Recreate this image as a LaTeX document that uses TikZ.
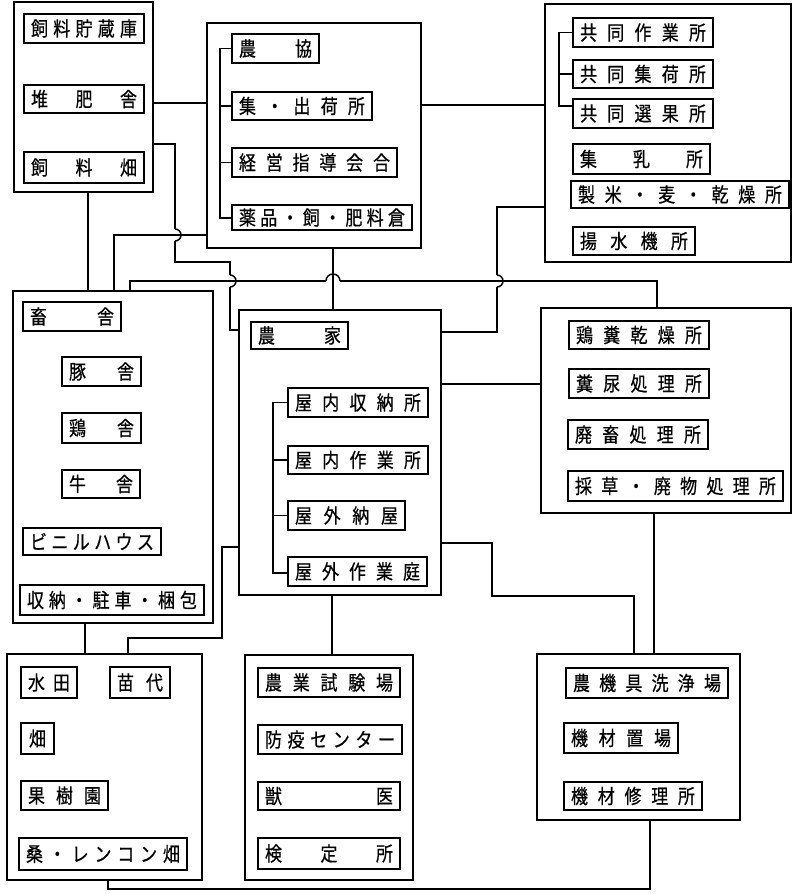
\documentclass[tikz,border=0pt]{standalone}
\usepackage{fontspec}
\newfontfamily\jp[FakeStretch=0.85,FakeBold=0.5]{Noto Sans CJK JP}
\newcommand\InBox[6]{\node[ibx,minimum width={#4-#2},minimum height={#5-#3}] (#1) at ({(#2+#4)/2},{-(#3+#5)/2}) {\makebox[\dimexpr #4pt-#2pt-14pt\relax]{#6}};}
\newcommand\OutBox[5]{\node[obx,minimum width={#4-#2},minimum height={#5-#3}] (#1) at ({(#2+#4)/2},{-(#3+#5)/2}) {};}
\begin{document}
\begin{tikzpicture}[x=1pt,y=1pt,
  ibx/.style={draw,line width=1.4pt,inner sep=0pt,outer sep=0pt,font=\jp\fontsize{20}{20}\selectfont},
  obx/.style={draw,line width=1.8pt,inner sep=0pt,outer sep=0pt},
  conn/.style={line width=1.5pt},
  brk/.style={line width=1.4pt}]
\fill[white] (0,0) rectangle (794,-894);
\useasboundingbox (0,0) rectangle (794,-894);
% outer boxes
\OutBox{A}{14}{2}{153}{192}
\OutBox{B}{207}{23}{421}{248}
\OutBox{C}{545}{4}{791}{262}
\OutBox{D}{13}{291}{213}{623}
\OutBox{E}{239}{310}{441}{595}
\OutBox{F}{541}{308}{791}{513}
\OutBox{G}{7}{654}{202}{880}
\OutBox{H}{245}{655}{413}{880}
\OutBox{I}{537}{654}{740}{820}
% A
\InBox{a1}{24}{14}{144}{43}{飼\hfill 料\hfill 貯\hfill 蔵\hfill 庫}
\InBox{a2}{24}{85}{144}{113}{堆\hfill 肥\hfill 舎}
\InBox{a3}{24}{152}{144}{183}{飼\hfill 料\hfill 畑}
% B
\InBox{b1}{232}{34}{319}{63}{農\hfill 協}
\InBox{b2}{232}{92}{372}{120}{集\hfill ・\hfill 出\hfill 荷\hfill 所}
\InBox{b3}{232}{148}{397}{177}{経\hfill 営\hfill 指\hfill 導\hfill 会\hfill 合}
\InBox{b4}{232}{205}{412}{230}{薬\hfill 品\hfill ・\hfill 飼\hfill ・\hfill 肥\hfill 料\hfill 倉}
% C
\InBox{c1}{573}{18}{713}{47}{共\hfill 同\hfill 作\hfill 業\hfill 所}
\InBox{c2}{573}{60}{713}{88}{共\hfill 同\hfill 集\hfill 荷\hfill 所}
\InBox{c3}{573}{99}{713}{128}{共\hfill 同\hfill 選\hfill 果\hfill 所}
\InBox{c4}{573}{144}{710}{174}{集\hfill 乳\hfill 所}
\InBox{c5}{571}{181}{789}{208}{製\hfill 米\hfill ・\hfill 麦\hfill ・\hfill 乾\hfill 燥\hfill 所}
\InBox{c6}{573}{227}{695}{255}{揚\hfill 水\hfill 機\hfill 所}
% D
\InBox{d1}{23}{302}{121}{331}{畜\hfill 舎}
\InBox{d2}{62}{357}{141}{386}{豚\hfill 舎}
\InBox{d3}{62}{413}{141}{443}{鶏\hfill 舎}
\InBox{d4}{62}{470}{140}{498}{牛\hfill 舎}
\InBox{d5}{23}{528}{161}{555}{ビ\hfill ニ\hfill ル\hfill ハ\hfill ウ\hfill ス}
\InBox{d6}{20}{585}{204}{615}{収\hfill 納\hfill ・\hfill 駐\hfill 車\hfill ・\hfill 梱\hfill 包}
% E
\InBox{e1}{251}{322}{348}{349}{農\hfill 家}
\InBox{e2}{288}{388}{428}{417}{屋\hfill 内\hfill 収\hfill 納\hfill 所}
\InBox{e3}{288}{446}{428}{474}{屋\hfill 内\hfill 作\hfill 業\hfill 所}
\InBox{e4}{288}{501}{405}{530}{屋\hfill 外\hfill 納\hfill 屋}
\InBox{e5}{288}{557}{427}{586}{屋\hfill 外\hfill 作\hfill 業\hfill 庭}
% F
\InBox{f1}{569}{321}{709}{349}{鶏\hfill 糞\hfill 乾\hfill 燥\hfill 所}
\InBox{f2}{569}{369}{709}{398}{糞\hfill 尿\hfill 処\hfill 理\hfill 所}
\InBox{f3}{568}{420}{708}{449}{廃\hfill 畜\hfill 処\hfill 理\hfill 所}
\InBox{f4}{568}{471}{783}{501}{採\hfill 草\hfill ・\hfill 廃\hfill 物\hfill 処\hfill 理\hfill 所}
% G
\InBox{g1}{21}{667}{77}{698}{水\hfill 田}
\InBox{g2}{110}{667}{170}{698}{苗\hfill 代}
\InBox{g3}{21}{723}{54}{754}{\hfill 畑\hfill}
\InBox{g4}{21}{781}{108}{810}{果\hfill 樹\hfill 園}
\InBox{g5}{19}{838}{187}{870}{桑\hfill ・\hfill レ\hfill ン\hfill コ\hfill ン\hfill 畑}
% H
\InBox{h1}{258}{668}{400}{697}{農\hfill 業\hfill 試\hfill 験\hfill 場}
\InBox{h2}{258}{725}{402}{754}{防\hfill 疫\hfill セ\hfill ン\hfill タ\hfill ー}
\InBox{h3}{258}{782}{400}{810}{獣\hfill 医}
\InBox{h4}{258}{838}{400}{869}{検\hfill 定\hfill 所}
% I
\InBox{i1}{566}{668}{728}{698}{農\hfill 機\hfill 具\hfill 洗\hfill 浄\hfill 場}
\InBox{i2}{564}{723}{678}{753}{機\hfill 材\hfill 置\hfill 場}
\InBox{i3}{564}{782}{702}{810}{機\hfill 材\hfill 修\hfill 理\hfill 所}
% brackets
\draw[brk] (b1.west) -- (220,-48.5) -- (220,-218) -- (b4.west |- 0,-218);
\draw[brk] (220,-106) -- (b2.west);
\draw[brk] (220,-162.5) -- (b3.west);
\draw[brk] (c1.west) -- (559,-32.5) -- (559,-106) -- (c3.west |- 0,-106);
\draw[brk] (559,-74) -- (c2.west);
\draw[brk] (e2.west) -- (273,-402.5) -- (273,-573) -- (e5.west |- 0,-573);
\draw[brk] (273,-460) -- (e3.west);
\draw[brk] (273,-515.5) -- (e4.west);
% connectors (straight parts; hops drawn separately)
\draw[conn] (A.east |- 0,-103) -- (B.west |- 0,-103);
\draw[conn] (B.east |- 0,-105) -- (C.west |- 0,-105);
\draw[conn] (A.east |- 0,-144) -- (175,-144) -- (175,-229);
\draw[conn] (175,-229) arc (90:-90:6);
\draw[conn] (175,-241) -- (175,-262) -- (230,-262) -- (230,-275);
\draw[conn] (230,-275) arc (90:-90:6);
\draw[conn] (230,-287) -- (230,-330) -- (E.west |- 0,-330);
\draw[conn] (D.north -| 114,0) -- (114,-235) -- (B.west |- 0,-235);
\draw[conn] (A.south -| 88,0) -- (D.north -| 88,0);
\draw[conn] (D.north -| 130,0) -- (130,-281) -- (326,-281);
\draw[conn] (326,-281) arc (180:0:7);
\draw[conn] (340,-281) -- (657,-281) -- (F.north -| 657,0);
\draw[conn] (B.south -| 333,0) -- (E.north -| 333,0);
\draw[conn] (C.west |- 0,-207) -- (497,-207) -- (497,-275);
\draw[conn] (497,-275) arc (90:-90:6);
\draw[conn] (497,-287) -- (497,-332) -- (E.east |- 0,-332);
\draw[conn] (E.east |- 0,-384) -- (F.west |- 0,-384);
\draw[conn] (E.east |- 0,-543) -- (492,-543) -- (492,-596) -- (634,-596) -- (I.north -| 634,0);
\draw[conn] (F.south -| 654,0) -- (I.north -| 654,0);
\draw[conn] (E.west |- 0,-547) -- (222,-547) -- (222,-638) -- (128,-638) -- (G.north -| 128,0);
\draw[conn] (D.south -| 85,0) -- (G.north -| 85,0);
\draw[conn] (E.south -| 332,0) -- (H.north -| 332,0);
\draw[conn] (G.south -| 108,0) -- (108,-889) -- (650,-889) -- (I.south -| 650,0);
\end{tikzpicture}
\end{document}
